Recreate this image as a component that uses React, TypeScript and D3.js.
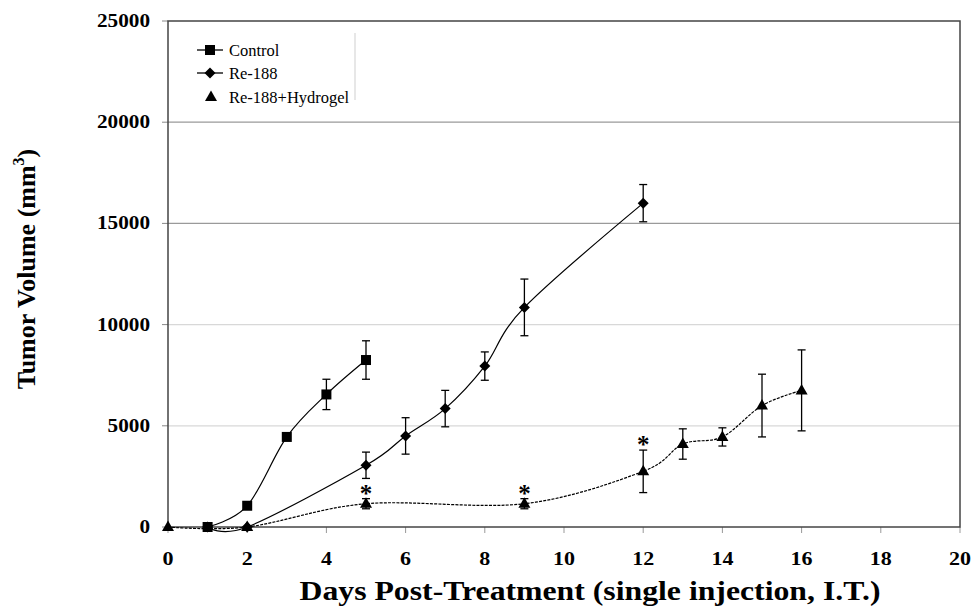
import React from "react";
import * as d3 from "d3";

const W = 972;
const H = 611;

// Data
const controlDays = [1, 2, 3, 4, 5];
const controlMean = [0, 1050, 4450, 6550, 8250];
const controlErr = [0, 150, 100, 750, 950];

const re188Days = [1, 2, 5, 6, 7, 8, 9, 12];
const re188Mean = [0, 0, 3050, 4500, 5850, 7950, 10850, 16000];
const re188Err = [0, 0, 650, 900, 900, 700, 1400, 920];

const hydDays = [0, 2, 5, 9, 12, 13, 14, 15, 16];
const hydMean = [0, 0, 1150, 1150, 2750, 4100, 4450, 6000, 6750];
const hydErr = [0, 0, 250, 250, 1050, 750, 450, 1550, 2000];

const starDays = [5, 9, 12];

const xTicks = [0, 2, 4, 6, 8, 10, 12, 14, 16, 18, 20];
const yTicks = [0, 5000, 10000, 15000, 20000, 25000];

const legendLabels = ["Control", "Re-188", "Re-188+Hydrogel"];

const FONT = "'Liberation Serif', 'Times New Roman', serif";

type Pt = { d: number; v: number; e: number };
const zip = (ds: number[], ms: number[], es: number[]): Pt[] =>
  ds.map((d, i) => ({ d, v: ms[i], e: es[i] }));

const control = zip(controlDays, controlMean, controlErr);
const re188 = zip(re188Days, re188Mean, re188Err);
const hyd = zip(hydDays, hydMean, hydErr);

export default function App() {
  const x = d3.scaleLinear().domain([0, 20]).range([168, 960]);
  const y = d3.scaleLinear().domain([0, 25000]).range([527, 21]);

  const line = d3
    .line<Pt>()
    .x((p) => x(p.d))
    .y((p) => y(p.v))
    .curve(d3.curveCatmullRom.alpha(0));

  const square = (cx: number, cy: number, k: string) => (
    <rect key={k} x={cx - 5} y={cy - 5} width={10} height={10} fill="#000" />
  );
  const diamond = (cx: number, cy: number, k: string) => (
    <path key={k} d={`M${cx},${cy - 5.5}L${cx + 5.5},${cy}L${cx},${cy + 5.5}L${cx - 5.5},${cy}Z`} fill="#000" />
  );
  const triangle = (cx: number, cy: number, k: string) => (
    <path key={k} d={`M${cx},${cy - 6.5}L${cx + 6},${cy + 4}L${cx - 6},${cy + 4}Z`} fill="#000" />
  );

  const errBars = (pts: Pt[], key: string) =>
    pts
      .filter((p) => p.e > 0)
      .map((p, i) => {
        const cx = x(p.d);
        const yt = y(p.v + p.e);
        const yb = y(p.v - p.e);
        return (
          <g key={key + i} stroke="#000" strokeWidth={1.3}>
            <line x1={cx} x2={cx} y1={yt} y2={yb} />
            <line x1={cx - 4} x2={cx + 4} y1={yt} y2={yt} />
            <line x1={cx - 4} x2={cx + 4} y1={yb} y2={yb} />
          </g>
        );
      });

  const gridColor = (t: number) => (t >= 15000 ? "#9a9a9a" : "#d8d8d8");

  return (
    <svg
      width={W}
      height={H}
      style={{ position: "absolute", left: 0, top: 0, background: "#fff", fontFamily: FONT }}
    >
      <rect x={0} y={0} width={W} height={H} fill="#fff" />
      {/* gridlines */}
      {yTicks
        .filter((t) => t > 0 && t < 25000)
        .map((t) => (
          <line key={"g" + t} x1={x(0)} x2={x(20)} y1={y(t)} y2={y(t)} stroke={gridColor(t)} strokeWidth={1.2} />
        ))}
      {/* y ticks */}
      {yTicks.map((t) => (
        <g key={"yt" + t}>
          <line x1={x(0) - 6} x2={x(0)} y1={y(t)} y2={y(t)} stroke="#888" strokeWidth={1} />
          <text
            x={150}
            y={y(t) + 6}
            textAnchor="end"
            fontSize={19}
            fontWeight="bold"
            textLength={String(t).length * 10.6}
            lengthAdjust="spacingAndGlyphs"
          >
            {t}
          </text>
        </g>
      ))}
      {/* x ticks */}
      {xTicks.map((t) => (
        <g key={"xt" + t}>
          <line x1={x(t)} x2={x(t)} y1={y(0)} y2={y(0) + 6} stroke="#999" strokeWidth={1} />
          <text
            x={x(t)}
            y={565}
            textAnchor="middle"
            fontSize={19}
            fontWeight="bold"
            textLength={String(t).length * 11}
            lengthAdjust="spacingAndGlyphs"
          >
            {t}
          </text>
        </g>
      ))}
      {/* frame */}
      <rect x={x(0)} y={y(25000)} width={x(20) - x(0)} height={y(0) - y(25000)} fill="none" stroke="#444" strokeWidth={1.5} />

      {/* legend */}
      <line x1={355} x2={355} y1={33} y2={100} stroke="#cfcfcf" strokeWidth={1} />
      <line x1={197} x2={223} y1={50} y2={50} stroke="#000" strokeWidth={1.3} />
      {square(210, 50, "ls")}
      <line x1={197} x2={223} y1={73} y2={73} stroke="#000" strokeWidth={1.3} />
      {diamond(210, 73, "ld")}
      {triangle(211, 97, "lt")}
      {legendLabels.map((l, i) => (
        <text key={l} x={229} y={[50, 73, 97][i] + 5.5} fontSize={16.5}>
          {l}
        </text>
      ))}

      {/* series lines */}
      <path d={line(hyd) || ""} fill="none" stroke="#000" strokeWidth={1.2} strokeDasharray="3,1.2" />
      <path d={line(re188) || ""} fill="none" stroke="#000" strokeWidth={1.2} />
      <path d={line(control) || ""} fill="none" stroke="#000" strokeWidth={1.2} />

      {/* error bars */}
      {errBars(hyd, "he")}
      {errBars(re188, "re")}
      {errBars(control, "ce")}

      {/* markers */}
      {hyd.map((p, i) => triangle(x(p.d), y(p.v), "hm" + i))}
      {re188.map((p, i) => diamond(x(p.d), y(p.v), "rm" + i))}
      {control.map((p, i) => square(x(p.d), y(p.v), "cm" + i))}

      {/* significance asterisks */}
      {starDays.map((d) => {
        const p = hyd.find((q) => q.d === d)!;
        return (
          <text key={"s" + d} x={x(d)} y={y(p.v + p.e) + 3} textAnchor="middle" fontSize={25} fontWeight="bold">
            *
          </text>
        );
      })}

      {/* axis titles */}
      <text
        x={590}
        y={600}
        textAnchor="middle"
        fontSize={27}
        fontWeight="bold"
        textLength={581}
        lengthAdjust="spacingAndGlyphs"
      >
        Days Post-Treatment (single injection, I.T.)
      </text>
      <text transform="translate(35,269) rotate(-90)" textAnchor="middle" fontSize={26} fontWeight="bold">
        Tumor Volume (mm
        <tspan fontSize={16} dy={-11}>3</tspan>
        <tspan dy={11}>)</tspan>
      </text>
    </svg>
  );
}
